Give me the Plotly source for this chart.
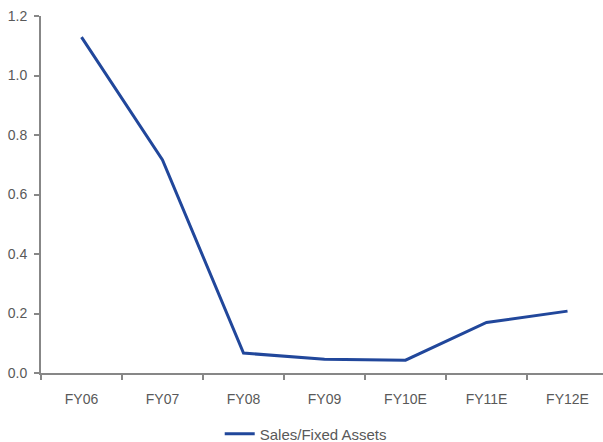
import plotly.graph_objects as go

# Sales / fixed assets ratio by fiscal year
years = ["FY06", "FY07", "FY08", "FY09", "FY10E", "FY11E", "FY12E"]
ratio = [1.129, 0.716, 0.067, 0.046, 0.043, 0.170, 0.208]
y_ticks = [0.0, 0.2, 0.4, 0.6, 0.8, 1.0, 1.2]
y_tick_text = ["0.0", "0.2", "0.4", "0.6", "0.8", "1.0", "1.2"]

LINE_BLUE = "#21479B"
AXIS_GREY = "#878787"
TEXT_GREY = "#595959"
FONT = "Liberation Sans, Arial, sans-serif"

fig = go.Figure()
fig.add_trace(go.Scatter(
    x=years, y=ratio, mode="lines", name="Sales/Fixed Assets",
    line=dict(color=LINE_BLUE, width=3),
))

fig.update_layout(
    width=603, height=442,
    margin=dict(l=41, r=0, t=16, b=69, autoexpand=False),
    paper_bgcolor="white", plot_bgcolor="white",
    font=dict(family=FONT, size=14, color=TEXT_GREY),
    showlegend=True,
    legend=dict(
        orientation="h", x=0.318, xanchor="left", y=-0.171, yanchor="middle",
        font=dict(family=FONT, size=15, color=TEXT_GREY),
        bgcolor="rgba(0,0,0,0)", itemwidth=30,
    ),
    xaxis=dict(
        type="category", range=[-0.5, 6.438],
        showline=True, linecolor=AXIS_GREY, linewidth=2,
        ticks="outside", ticklen=5, tickcolor=AXIS_GREY, tickwidth=2,
        tickson="boundaries", showgrid=False, zeroline=False,
        ticklabelstandoff=12,
        tickfont=dict(family=FONT, size=14, color=TEXT_GREY),
        automargin=False,
    ),
    yaxis=dict(
        range=[0, 1.2], tickvals=y_ticks, ticktext=y_tick_text,
        showline=True, linecolor=AXIS_GREY, linewidth=2,
        ticks="outside", ticklen=5, tickcolor=AXIS_GREY, tickwidth=2,
        showgrid=False, zeroline=False,
        ticklabelstandoff=4,
        tickfont=dict(family=FONT, size=14, color=TEXT_GREY),
        automargin=False,
    ),
)

fig.write_html("out.html")
